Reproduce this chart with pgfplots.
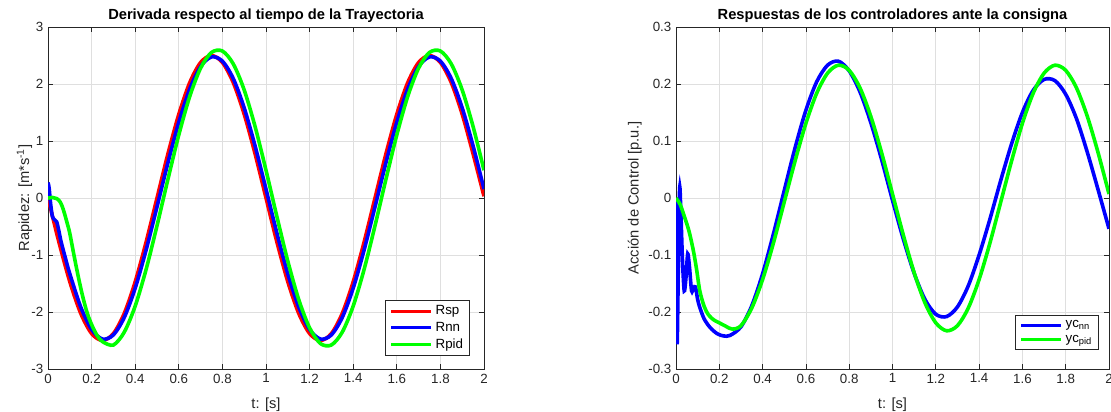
\documentclass[border=0pt]{standalone}
\usepackage{fontspec}
\setmainfont{Liberation Sans}
\usepackage{pgfplots}
\pgfplotsset{compat=1.18}
\definecolor{axgray}{RGB}{38,38,38}
\definecolor{gridgray}{RGB}{223,223,223}
\definecolor{mred}{RGB}{255,0,0}
\definecolor{mblue}{RGB}{0,0,255}
\definecolor{mgreen}{RGB}{0,255,0}
\pgfplotsset{
  every axis title/.style={at={(0.5,1)}, anchor=base, yshift=6pt, font=\bfseries\fontsize{11}{13}\selectfont},
  mstyle/.style={
    scale only axis, height=256.5pt,
    xmin=0, xmax=2,
    xtick={0,0.2,0.4,0.6,0.8,1,1.2,1.4,1.6,1.8,2},
    xticklabels={0,0.2,0.4,0.6,0.8,1,1.2,1.4,1.6,1.8,2},
    grid=major, major grid style={gridgray, line width=0.5pt},
    axis line style={axgray, line width=0.5pt},
    tick style={axgray, line width=0.5pt}, major tick length=4pt,
    ticklabel style={font=\fontsize{10}{12}\selectfont, text=axgray},
    xlabel style={font=\fontsize{11}{13}\selectfont, text=axgray, at={(axis description cs:0.5,-0.105)}, anchor=center},
    legend style={font=\fontsize{10}{12}\selectfont, draw=axgray, line width=0.5pt, anchor=south east, inner xsep=3pt, inner ysep=2pt},
    legend cell align=left,
    legend image code/.code={\draw[#1, line width=2.5pt] (0pt,0pt) -- (30pt,0pt);},
    every axis plot/.append style={line width=2.7pt, smooth},
    xlabel={t: [s]},
  }
}
\begin{document}
\begin{tikzpicture}
\useasboundingbox (-36pt,-31.5pt) rectangle (797.25pt,276.75pt);
\begin{axis}[mstyle, width=327pt,
  ymin=-3, ymax=3, ytick={-3,-2,-1,0,1,2,3}, yticklabels={-3,-2,-1,0,1,2,3},
  title={Derivada respecto al tiempo de la Trayectoria},
  ylabel={Rapidez: [m*s\textsuperscript{-1}]},
  ylabel style={font=\fontsize{11}{13}\selectfont, text=axgray, at={(axis description cs:-0.054,0.5)}, anchor=center},
  legend style={at={(axis description cs:0.968,0.038)}}]
\addplot[mred] coordinates {(0,0)(0.05,-0.773)(0.1,-1.469)(0.15,-2.023)(0.2,-2.378)(0.25,-2.5)(0.3,-2.378)(0.35,-2.023)(0.4,-1.469)(0.45,-0.773)(0.5,0)(0.55,0.773)(0.6,1.469)(0.65,2.023)(0.7,2.378)(0.75,2.5)(0.8,2.378)(0.85,2.023)(0.9,1.469)(0.95,0.773)(1,0)(1.05,-0.773)(1.1,-1.469)(1.15,-2.023)(1.2,-2.378)(1.25,-2.5)(1.3,-2.378)(1.35,-2.023)(1.4,-1.469)(1.45,-0.773)(1.5,0)(1.55,0.773)(1.6,1.469)(1.65,2.023)(1.7,2.378)(1.75,2.5)(1.8,2.378)(1.85,2.023)(1.9,1.469)(1.95,0.773)(2,0.03)};
\addlegendentry{Rsp}
\addplot[mblue] coordinates {(0,0.27)(0.005,0.18)(0.012,-0.1)(0.02,-0.32)(0.03,-0.38)(0.04,-0.42)(0.05,-0.58)(0.06,-0.766)(0.08,-1.056)(0.1,-1.329)(0.15,-1.911)(0.2,-2.306)(0.25,-2.475)(0.3,-2.402)(0.35,-2.094)(0.4,-1.581)(0.45,-0.913)(0.5,-0.156)(0.55,0.617)(0.6,1.329)(0.65,1.911)(0.7,2.306)(0.75,2.475)(0.8,2.402)(0.85,2.094)(0.9,1.581)(0.95,0.913)(1,0.156)(1.05,-0.617)(1.1,-1.329)(1.15,-1.911)(1.2,-2.306)(1.25,-2.475)(1.3,-2.402)(1.35,-2.094)(1.4,-1.581)(1.45,-0.913)(1.5,-0.156)(1.55,0.617)(1.6,1.329)(1.65,1.911)(1.7,2.306)(1.75,2.475)(1.8,2.402)(1.85,2.094)(1.9,1.581)(1.95,0.913)(2,0.156)};
\addlegendentry{Rnn}
\addplot[mgreen] coordinates {(0,0)(0.01,0.005)(0.02,0.01)(0.03,0)(0.04,-0.01)(0.05,-0.04)(0.06,-0.1)(0.07,-0.2)(0.08,-0.33)(0.09,-0.47)(0.1,-0.62)(0.12,-1.02)(0.14,-1.4)(0.16,-1.74)(0.18,-2.02)(0.2,-2.22)(0.225,-2.41)(0.25,-2.52)(0.3,-2.579)(0.35,-2.352)(0.4,-1.895)(0.45,-1.253)(0.5,-0.487)(0.55,0.326)(0.6,1.107)(0.65,1.78)(0.7,2.278)(0.75,2.554)(0.8,2.579)(0.85,2.352)(0.9,1.895)(0.95,1.253)(1,0.487)(1.05,-0.326)(1.1,-1.107)(1.15,-1.78)(1.2,-2.278)(1.25,-2.554)(1.3,-2.579)(1.35,-2.352)(1.4,-1.895)(1.45,-1.253)(1.5,-0.487)(1.55,0.326)(1.6,1.107)(1.65,1.78)(1.7,2.278)(1.75,2.554)(1.8,2.579)(1.85,2.352)(1.9,1.895)(1.95,1.253)(2,0.487)};
\addlegendentry{Rpid}
\end{axis}
\begin{axis}[mstyle, width=324.75pt, at={(471pt,0pt)},
  ymin=-0.3, ymax=0.3, ytick={-0.3,-0.2,-0.1,0,0.1,0.2,0.3}, yticklabels={-0.3,-0.2,-0.1,0,0.1,0.2,0.3},
  title={Respuestas de los controladores ante la consigna},
  ylabel={Acción de Control [p.u.]},
  ylabel style={font=\fontsize{11}{13}\selectfont, text=axgray, at={(axis description cs:-0.095,0.5)}, anchor=center},
  legend style={at={(axis description cs:0.977,0.0556)}}]
\addplot[mblue] coordinates {(0,0)(0.002,-0.13)(0.005,-0.255)(0.008,-0.2)(0.012,-0.08)(0.017,0.018)(0.022,-0.02)(0.03,-0.11)(0.038,-0.163)(0.046,-0.14)(0.054,-0.098)(0.062,-0.12)(0.072,-0.163)(0.081,-0.158)(0.09,-0.156)(0.1,-0.178)(0.11,-0.192)(0.13,-0.212)(0.157,-0.227)(0.19,-0.238)(0.22,-0.242)(0.25,-0.241)(0.3,-0.226)(0.35,-0.189)(0.4,-0.133)(0.45,-0.063)(0.5,0.013)(0.55,0.088)(0.6,0.154)(0.65,0.204)(0.7,0.233)(0.75,0.240)(0.8,0.223)(0.85,0.186)(0.9,0.132)(0.95,0.067)(1,-0.004)(1.05,-0.072)(1.1,-0.132)(1.15,-0.178)(1.2,-0.204)(1.25,-0.208)(1.3,-0.191)(1.35,-0.154)(1.4,-0.1)(1.45,-0.037)(1.5,0.031)(1.55,0.095)(1.6,0.15)(1.65,0.189)(1.7,0.208)(1.75,0.206)(1.8,0.182)(1.85,0.139)(1.9,0.08)(1.95,0.014)(2,-0.054)};
\addlegendentry{yc\textsubscript{nn}}
\addplot[mgreen] coordinates {(0,0)(0.02,-0.012)(0.04,-0.034)(0.06,-0.058)(0.08,-0.092)(0.095,-0.125)(0.11,-0.163)(0.13,-0.19)(0.15,-0.205)(0.175,-0.214)(0.2,-0.219)(0.23,-0.225)(0.26,-0.23)(0.3,-0.224)(0.35,-0.193)(0.4,-0.143)(0.45,-0.079)(0.5,-0.007)(0.55,0.065)(0.6,0.131)(0.65,0.184)(0.7,0.219)(0.75,0.233)(0.8,0.224)(0.85,0.193)(0.9,0.143)(0.95,0.079)(1,0.007)(1.05,-0.065)(1.1,-0.131)(1.15,-0.184)(1.2,-0.219)(1.25,-0.233)(1.3,-0.224)(1.35,-0.193)(1.4,-0.143)(1.45,-0.079)(1.5,-0.007)(1.55,0.065)(1.6,0.131)(1.65,0.184)(1.7,0.219)(1.75,0.233)(1.8,0.224)(1.85,0.193)(1.9,0.143)(1.95,0.079)(2,0.007)};
\addlegendentry{yc\textsubscript{pid}}
\end{axis}
\end{tikzpicture}
\end{document}
